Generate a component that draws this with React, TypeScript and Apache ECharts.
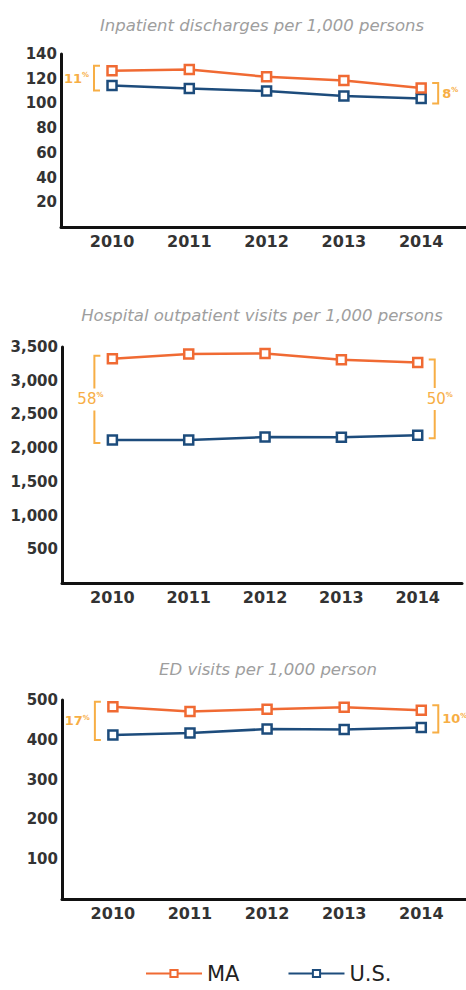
import React, { useEffect, useRef } from 'react';
import * as echarts from 'echarts';

const years = [2010, 2011, 2012, 2013, 2014];
const inpatientMA = [126.5, 127.5, 121.5, 118.5, 112.5];
const inpatientUS = [114.5, 112, 110, 106, 104];
const outpatientMA = [3325, 3395, 3405, 3310, 3270];
const outpatientUS = [2120, 2120, 2165, 2160, 2190];
const edMA = [483, 471, 477, 482, 474];
const edUS = [412, 417, 427, 426, 431];
const chartTitles = [
  'Inpatient discharges per 1,000 persons',
  'Hospital outpatient visits per 1,000 persons',
  'ED visits per 1,000 person',
];
const leftPct = ['11', '58', '17'];
const rightPct = ['8', '50', '10'];
const yMax = [140, 3500, 500];
const yInterval = [20, 500, 100];

const MA_COLOR = '#F06A33';
const US_COLOR = '#1D4C7C';
const BRACKET = '#F7AE45';
const FONT = 'DejaVu Sans';

const grids = [
  { left: 61, top: 54, right: 0, height: 173 },
  { left: 62, top: 347, right: 4, height: 236 },
  { left: 62, top: 700, right: 0, height: 199 },
];
const titlePos = [
  [262, 25],
  [262, 315],
  [268, 669],
];

export default function App() {
  const ref = useRef<HTMLDivElement>(null);
  useEffect(() => {
    if (!ref.current) return;
    const chart = echarts.init(ref.current, null, { renderer: 'svg' });
    const maSets = [inpatientMA, outpatientMA, edMA];
    const usSets = [inpatientUS, outpatientUS, edUS];

    const xAxis = grids.map((_, i) => ({
      type: 'value',
      gridIndex: i,
      min: 2009.34,
      max: 2014.58,
      axisLine: { show: true, lineStyle: { color: '#111', width: 3 } },
      axisTick: { show: false },
      splitLine: { show: false },
      axisLabel: {
        customValues: years,
        formatter: (v: number) => (years.indexOf(v) >= 0 ? String(v) : ''),
        fontSize: 16,
        fontWeight: 'bold',
        fontFamily: FONT,
        color: '#333',
        margin: 6,
      },
    }));
    const yAxis = grids.map((_, i) => ({
      type: 'value',
      gridIndex: i,
      min: 0,
      max: yMax[i],
      interval: yInterval[i],
      axisLine: { show: true, lineStyle: { color: '#111', width: 3 } },
      axisTick: { show: false },
      splitLine: { show: false },
      axisLabel: {
        formatter: (v: number) => (v === 0 ? '' : v.toLocaleString('en-US')),
        fontSize: 15,
        fontWeight: 'bold',
        fontFamily: FONT,
        color: '#333',
        margin: 4,
      },
    }));
    const series: any[] = [];
    grids.forEach((_, i) => {
      [
        { name: 'U.S.', vals: usSets[i], color: US_COLOR },
        { name: 'MA', vals: maSets[i], color: MA_COLOR },
      ].forEach((s) => {
        series.push({
          type: 'line',
          name: s.name,
          xAxisIndex: i,
          yAxisIndex: i,
          data: years.map((y, j) => [y, s.vals[j]]),
          symbol: 'rect',
          symbolSize: 9,
          lineStyle: { color: s.color, width: 2.5 },
          itemStyle: { color: '#fff', borderColor: s.color, borderWidth: 2.5 },
        });
      });
    });

    chart.setOption({
      animation: false,
      grid: grids,
      xAxis,
      yAxis,
      series,
      legend: {
        data: ['MA', 'U.S.'],
        left: 145,
        top: 963,
        padding: 0,
        itemWidth: 56,
        itemHeight: 9,
        itemGap: 48,
        textStyle: { fontSize: 21, color: '#222', fontFamily: FONT },
      },
    });

    const graphic: any[] = [];
    chartTitles.forEach((t, i) => {
      graphic.push({
        type: 'text',
        x: titlePos[i][0],
        y: titlePos[i][1],
        style: {
          text: t,
          fill: '#9e9e9e',
          fontSize: 16.5,
          fontStyle: 'italic',
          fontFamily: FONT,
          align: 'center',
          verticalAlign: 'middle',
        },
      });
    });

    grids.forEach((_, i) => {
      const ma = maSets[i];
      const us = usSets[i];
      const lMA = chart.convertToPixel({ gridIndex: i }, [years[0], ma[0]]) as number[];
      const lUS = chart.convertToPixel({ gridIndex: i }, [years[0], us[0]]) as number[];
      const rMA = chart.convertToPixel({ gridIndex: i }, [years[4], ma[4]]) as number[];
      const rUS = chart.convertToPixel({ gridIndex: i }, [years[4], us[4]]) as number[];
      const pad = i === 1 ? 3 : 5;
      const lip = 6;
      const lx = lMA[0] - 18;
      const rx = rMA[0] + 17;
      const lt = lMA[1] - pad;
      const lb = lUS[1] + pad;
      const rt = rMA[1] - pad;
      const rb = rUS[1] + pad;
      const lineStyle = { stroke: BRACKET, lineWidth: 2, fill: null };
      const big = i === 1;
      const rich = {
        n: { fontSize: big ? 15 : 13, fontWeight: big ? 'normal' : 'bold', fill: BRACKET, fontFamily: FONT },
        p: { fontSize: 7, fontWeight: 'bold', fill: BRACKET, fontFamily: FONT, verticalAlign: 'top' },
      };
      if (big) {
        const lm = (lt + lb) / 2;
        const rm = (rt + rb) / 2;
        graphic.push(
          { type: 'polyline', shape: { points: [[lx + lip, lt], [lx, lt], [lx, lm - 11]] }, style: lineStyle },
          { type: 'polyline', shape: { points: [[lx, lm + 11], [lx, lb], [lx + lip, lb]] }, style: lineStyle },
          { type: 'polyline', shape: { points: [[rx - lip, rt], [rx, rt], [rx, rm - 11]] }, style: lineStyle },
          { type: 'polyline', shape: { points: [[rx, rm + 11], [rx, rb], [rx - lip, rb]] }, style: lineStyle },
          {
            type: 'text', x: lx - 4, y: lm,
            style: { text: `{n|${leftPct[i]}}{p|%}`, rich, align: 'center', verticalAlign: 'middle' },
          },
          {
            type: 'text', x: rx + 5, y: rm,
            style: { text: `{n|${rightPct[i]}}{p|%}`, rich, align: 'center', verticalAlign: 'middle' },
          }
        );
      } else {
        graphic.push(
          { type: 'polyline', shape: { points: [[lx + lip, lt], [lx, lt], [lx, lb], [lx + lip, lb]] }, style: lineStyle },
          { type: 'polyline', shape: { points: [[rx - lip, rt], [rx, rt], [rx, rb], [rx - lip, rb]] }, style: lineStyle },
          {
            type: 'text', x: lx - 5, y: (lt + lb) / 2,
            style: { text: `{n|${leftPct[i]}}{p|%}`, rich, align: 'right', verticalAlign: 'middle' },
          },
          {
            type: 'text', x: rx + 4, y: (rt + rb) / 2,
            style: { text: `{n|${rightPct[i]}}{p|%}`, rich, align: 'left', verticalAlign: 'middle' },
          }
        );
      }
    });
    chart.setOption({ graphic });

    return () => chart.dispose();
  }, []);
  return <div ref={ref} style={{ position: 'absolute', left: 0, top: 0, width: 466, height: 990 }} />;
}
